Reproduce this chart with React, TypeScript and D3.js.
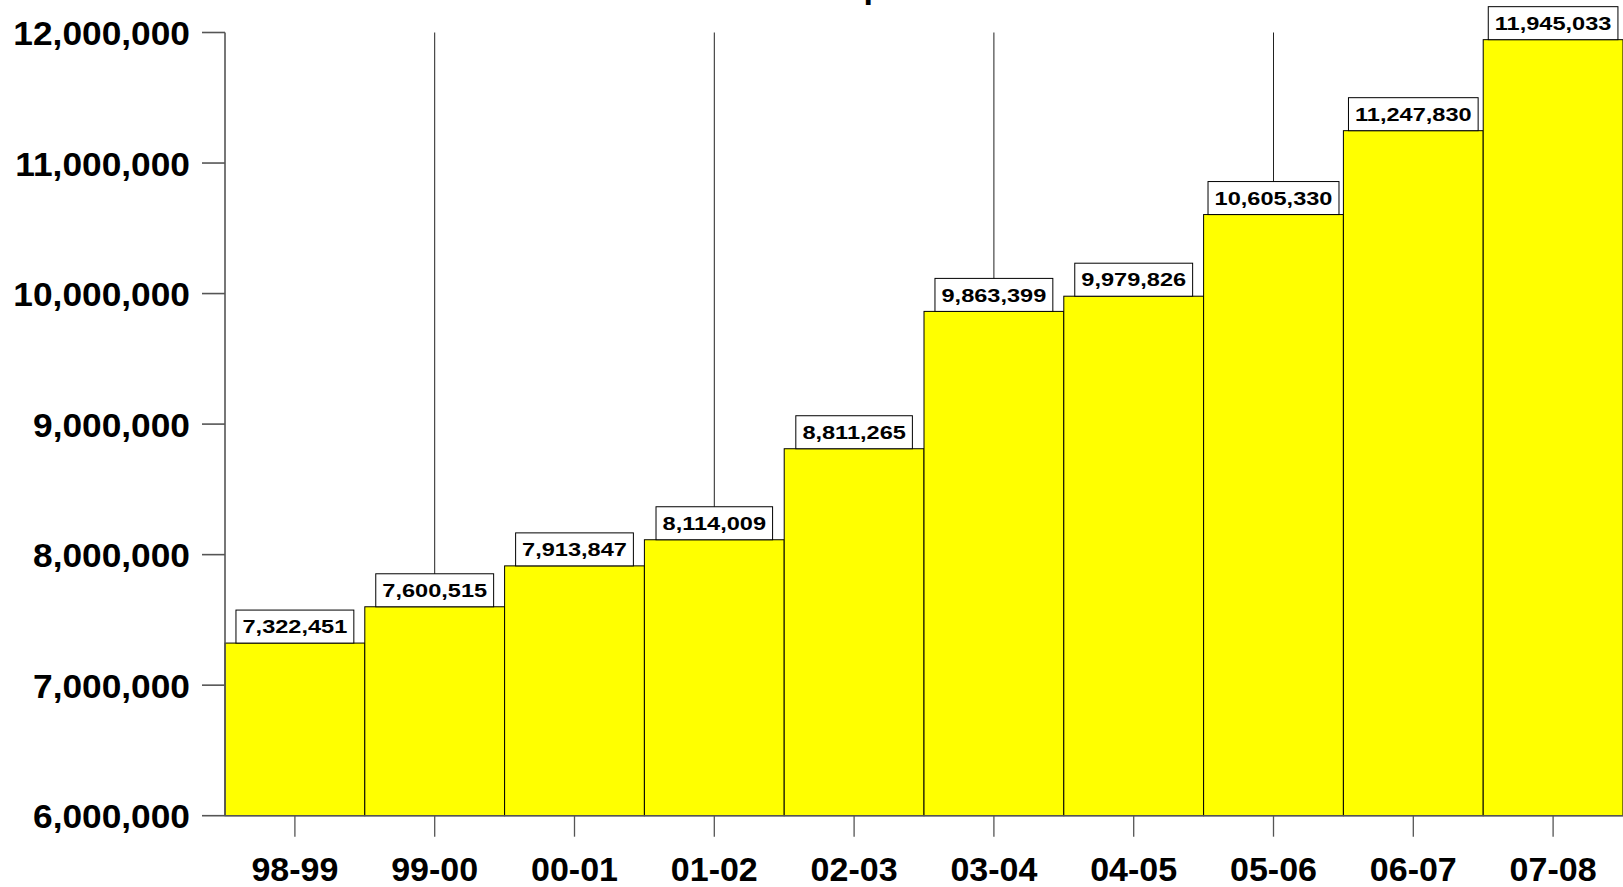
import React, { useEffect, useRef } from "react";
import * as d3 from "d3";

const categories = ["98-99", "99-00", "00-01", "01-02", "02-03", "03-04", "04-05", "05-06", "06-07", "07-08"];
const values = [7322451, 7600515, 7913847, 8114009, 8811265, 9863399, 9979826, 10605330, 11247830, 11945033];
const yTicks = [6000000, 7000000, 8000000, 9000000, 10000000, 11000000, 12000000];
const gridCategories = ["99-00", "01-02", "03-04", "05-06", "07-08"];
const titleText = "p";

const W = 1623;
const H = 887;

export default function App() {
  const ref = useRef<SVGSVGElement>(null);

  useEffect(() => {
    const svg = d3.select(ref.current);
    svg.selectAll("*").remove();

    const left = 225;
    const right = 1623;
    const top = 32.5;
    const bottom = 815.7;

    const x = d3.scaleBand<string>().domain(categories).range([left, right]).padding(0);
    const y = d3.scaleLinear().domain([6000000, 12000000]).range([bottom, top]);
    const fmt = d3.format(",");
    const font = "'Liberation Sans', Arial, sans-serif";

    // partially visible title
    svg.append("text")
      .attr("x", 863.5)
      .attr("y", -2)
      .attr("font-family", font)
      .attr("font-weight", "bold")
      .attr("font-size", 34)
      .attr("fill", "#000")
      .text(titleText);

    // grid lines
    svg.append("g")
      .selectAll("line")
      .data(gridCategories)
      .join("line")
      .attr("x1", (d) => (x(d) as number) + x.bandwidth() / 2)
      .attr("x2", (d) => (x(d) as number) + x.bandwidth() / 2)
      .attr("y1", top)
      .attr("y2", bottom)
      .attr("stroke", "#222")
      .attr("stroke-width", 1);

    // bars
    svg.append("g")
      .selectAll("rect")
      .data(values)
      .join("rect")
      .attr("x", (_, i) => x(categories[i]) as number)
      .attr("y", (d) => y(d))
      .attr("width", x.bandwidth())
      .attr("height", (d) => bottom - y(d))
      .attr("fill", "#ffff00")
      .attr("stroke", "#000")
      .attr("stroke-width", 1);

    // axes
    const axisColor = "#555";
    const yAxis = svg.append("g");
    yAxis.append("line")
      .attr("x1", left).attr("x2", left)
      .attr("y1", top).attr("y2", bottom)
      .attr("stroke", axisColor).attr("stroke-width", 1.6);
    yAxis.selectAll("line.tick")
      .data(yTicks)
      .join("line")
      .attr("class", "tick")
      .attr("x1", 202).attr("x2", left)
      .attr("y1", (d) => y(d)).attr("y2", (d) => y(d))
      .attr("stroke", axisColor).attr("stroke-width", 1.6);
    yAxis.selectAll("text")
      .data(yTicks)
      .join("text")
      .attr("transform", (d) => `translate(190,${y(d) + 12.5}) scale(1.07,1)`)
      .attr("text-anchor", "end")
      .attr("font-family", font)
      .attr("font-weight", "bold")
      .attr("font-size", 33)
      .attr("fill", "#000")
      .text((d) => fmt(d));

    const xAxis = svg.append("g");
    xAxis.append("line")
      .attr("x1", left).attr("x2", right)
      .attr("y1", bottom).attr("y2", bottom)
      .attr("stroke", axisColor).attr("stroke-width", 1.6);
    xAxis.selectAll("line.tick")
      .data(categories)
      .join("line")
      .attr("class", "tick")
      .attr("x1", (d) => (x(d) as number) + x.bandwidth() / 2)
      .attr("x2", (d) => (x(d) as number) + x.bandwidth() / 2)
      .attr("y1", bottom).attr("y2", bottom + 21)
      .attr("stroke", axisColor).attr("stroke-width", 1.3);
    xAxis.selectAll("text")
      .data(categories)
      .join("text")
      .attr("x", (d) => (x(d) as number) + x.bandwidth() / 2)
      .attr("y", 880.5)
      .attr("text-anchor", "middle")
      .attr("font-family", font)
      .attr("font-weight", "bold")
      .attr("font-size", 34)
      .attr("fill", "#000")
      .text((d) => d);

    // value labels
    const lab = svg.append("g");
    const sx = 1.24;
    values.forEach((v, i) => {
      const cx = (x(categories[i]) as number) + x.bandwidth() / 2;
      const yb = y(v);
      const g = lab.append("g");
      const rect = g.append("rect");
      const t = g.append("text")
        .attr("transform", `translate(${cx},${yb - 9.8}) scale(${sx},1)`)
        .attr("text-anchor", "middle")
        .attr("font-family", font)
        .attr("font-weight", "bold")
        .attr("font-size", 19)
        .attr("fill", "#000")
        .text(fmt(v));
      const bb = (t.node() as SVGTextElement).getBBox();
      const w = bb.width * sx + 13;
      rect
        .attr("x", cx - w / 2)
        .attr("y", yb - 33)
        .attr("width", w)
        .attr("height", 33)
        .attr("fill", "#fff")
        .attr("stroke", "#000")
        .attr("stroke-width", 1);
    });
  }, []);

  return (
    <svg
      ref={ref}
      width={W}
      height={H}
      style={{ position: "absolute", left: 0, top: 0, background: "#fff" }}
    />
  );
}
